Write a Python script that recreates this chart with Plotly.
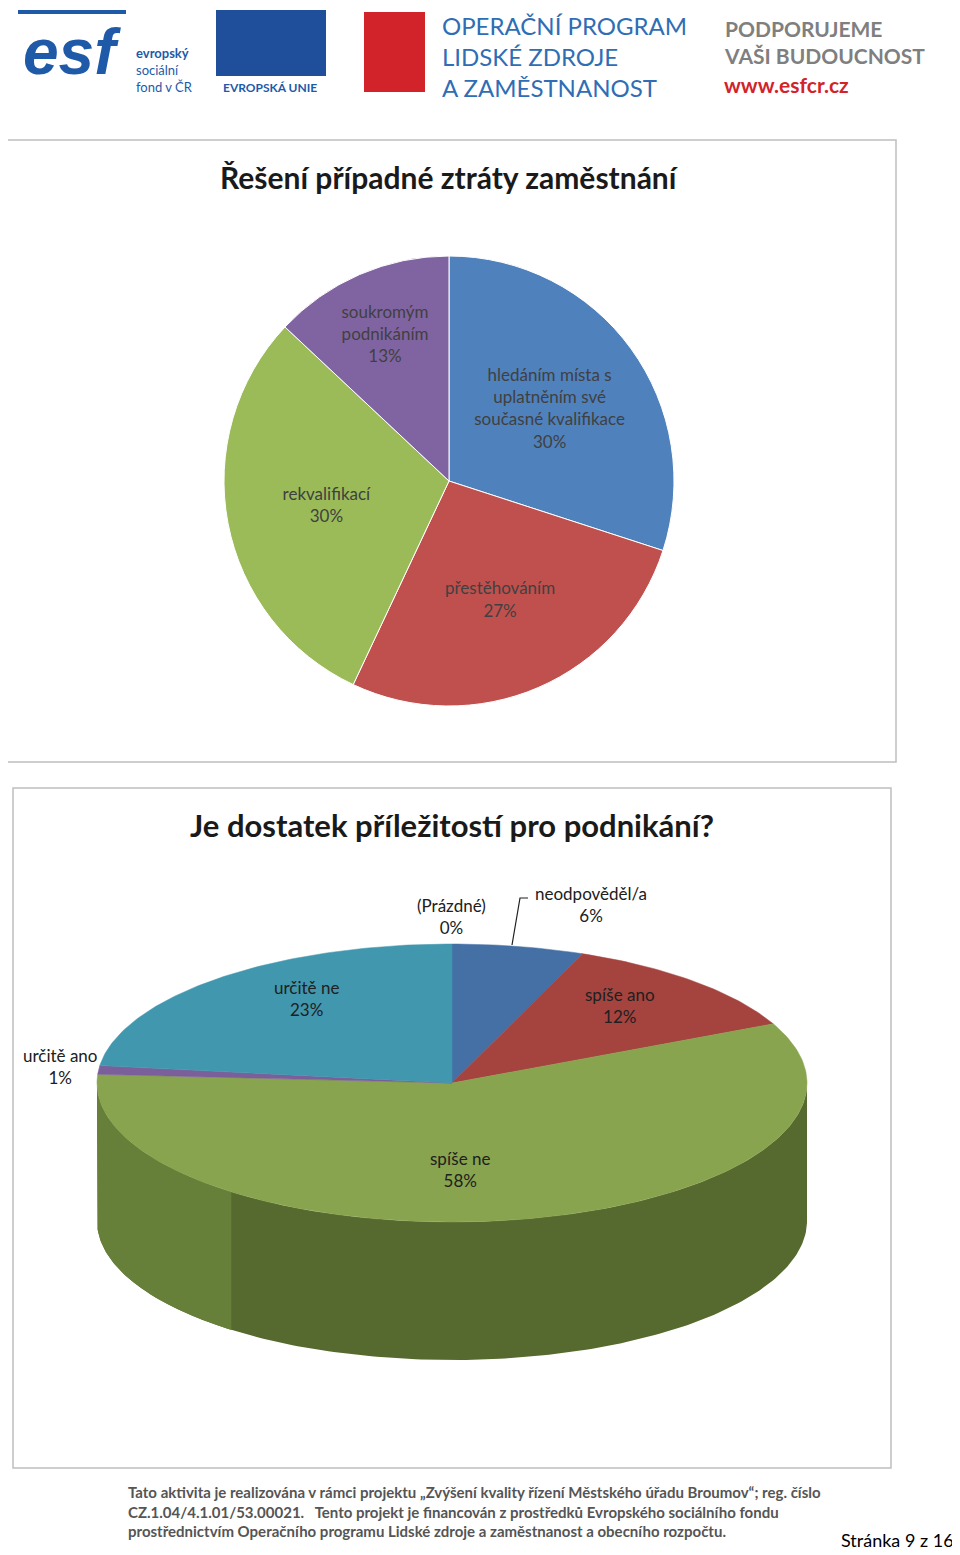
import numpy as np
import plotly.graph_objects as go

# Chart 1 data
labels1 = ["hledáním místa s<br>uplatněním své<br>současné kvalifikace", "přestěhováním", "rekvalifikací", "soukromým<br>podnikáním"]
values1 = [30, 27, 30, 13]
colors1 = ["#4F81BD", "#C0504D", "#9BBB59", "#8064A2"]

# Chart 2 data
labels2 = ["(Prázdné)", "neodpověděl/a", "spíše ano", "spíše ne", "určitě ano", "určitě ne"]
values2 = [0, 6, 12, 58, 1, 23]
colors2 = ["#4470A5", "#4470A5", "#A5433F", "#88A44E", "#7B5F9A", "#4197AE"]
label_pos2 = [(451, 916), (591, 904), (620, 1005), (460, 1169), (60, 1066), (306, 998)]

OFF = 8  # page body margin
PW, PH = 960, 1555
W, H = PW - OFF, PH - OFF
fig = go.Figure()

def px(x):  # page x -> paper
    return (x - OFF) / W
def py(y):
    return 1 - (y - OFF) / H

fig.add_trace(go.Pie(
    labels=labels1, values=values1, sort=False, direction="clockwise", rotation=0,
    marker=dict(colors=colors1, line=dict(color="white", width=1)),
    texttemplate="%{label}<br>%{percent:.0%}", textposition="inside",
    insidetextorientation="horizontal",
    textfont=dict(family="Lato", size=17, color="#404040"),
    domain=dict(x=[px(224), px(674)], y=[py(706), py(256)]),
    showlegend=False, hoverinfo="skip"))

cx, cy, rx, ry, depth = 452, 1083, 355, 139, 138
def pt(theta):
    return cx + rx * np.sin(theta), cy - ry * np.cos(theta)

t = np.linspace(np.pi / 2, 3 * np.pi / 2, 200)
xs, ys = pt(t)
fig.add_trace(go.Scatter(x=np.concatenate([xs, xs[::-1]]), y=np.concatenate([ys, ys[::-1] + depth]),
                         fill="toself", fillcolor="#56692F", mode="lines",
                         line=dict(width=0), showlegend=False, hoverinfo="skip"))
t2 = np.linspace(3 * np.pi / 2 - 0.9, 3 * np.pi / 2, 80)
xs2, ys2 = pt(t2)
fig.add_trace(go.Scatter(x=np.concatenate([xs2, xs2[::-1]]), y=np.concatenate([ys2, ys2[::-1] + depth]),
                         fill="toself", fillcolor="#66803A", mode="lines", line=dict(width=0),
                         showlegend=False, hoverinfo="skip"))

cum = np.cumsum([0] + values2) / sum(values2) * 2 * np.pi
for i, v in enumerate(values2):
    if v == 0:
        continue
    t = np.linspace(cum[i], cum[i + 1], max(10, int(v * 4)))
    x, y = pt(t)
    fig.add_trace(go.Scatter(x=np.concatenate([[cx], x, [cx]]), y=np.concatenate([[cy], y, [cy]]),
                             fill="toself", fillcolor=colors2[i], mode="lines",
                             line=dict(width=0.5, color=colors2[i]), showlegend=False, hoverinfo="skip"))

ann = []
for (lx, ly), lab, v in zip(label_pos2, labels2, values2):
    ann.append(dict(x=lx, y=ly, xref="x", yref="y", text=f"{lab}<br>{v}%", showarrow=False,
                    font=dict(family="Lato", size=17, color="#202020")))
fig.add_trace(go.Scatter(x=[512, 520, 528], y=[945, 898, 898], mode="lines",
                         line=dict(color="#202020", width=1.2), showlegend=False, hoverinfo="skip"))

ann += [
    dict(x=449, y=177, xref="x", yref="y", text="<b>Řešení případné ztráty zaměstnání</b>", showarrow=False,
         font=dict(family="Lato", size=30, color="#1a1a1a")),
    dict(x=452, y=825, xref="x", yref="y", text="<b>Je dostatek příležitostí pro podnikání?</b>", showarrow=False,
         font=dict(family="Lato", size=31, color="#1a1a1a")),
    dict(x=72, y=52, xref="x", yref="y", text="<b><i>esf</i></b>", showarrow=False,
         font=dict(family="Liberation Sans", size=64, color="#1E5AA8")),
    dict(x=134, y=70, xref="x", yref="y", text="<b>evropský</b><br>sociální<br>fond v ČR", showarrow=False,
         xanchor="left", align="left", font=dict(family="Lato", size=13, color="#1E5AA8")),
    dict(x=270, y=87, xref="x", yref="y", text="<b>EVROPSKÁ UNIE</b>", showarrow=False,
         font=dict(family="Lato", size=12, color="#1E5AA8")),
    dict(x=440, y=56, xref="x", yref="y", text="OPERAČNÍ PROGRAM<br>LIDSKÉ ZDROJE<br>A ZAMĚSTNANOST",
         showarrow=False, xanchor="left", align="left", font=dict(family="Lato", size=24, color="#2F6DB5")),
    dict(x=722, y=42, xref="x", yref="y", text="<b>PODPORUJEME<br>VAŠI BUDOUCNOST</b>",
         showarrow=False, xanchor="left", align="left", font=dict(family="Lato", size=21, color="#7F7F7F")),
    dict(x=722, y=84, xref="x", yref="y", text="<b>www.esfcr.cz</b>",
         showarrow=False, xanchor="left", align="left", font=dict(family="Lato", size=21, color="#D2232A")),
    dict(x=126, y=1511, xref="x", yref="y", align="left", xanchor="left", showarrow=False,
         text="<b>Tato aktivita je realizována v rámci projektu „Zvýšení kvality řízení Městského úřadu Broumov“; reg. číslo<br>"
              "CZ.1.04/4.1.01/53.00021.   Tento projekt je financován z prostředků Evropského sociálního fondu<br>"
              "prostřednictvím Operačního programu Lidské zdroje a zaměstnanost a obecního rozpočtu.</b>",
         font=dict(family="Lato", size=15, color="#555555")),
    dict(x=956, y=1540, xref="x", yref="y", xanchor="right", showarrow=False, text="Stránka 9 z 16",
         font=dict(family="Lato", size=18, color="#000000")),
]

shapes = [
    dict(type="rect", xref="x", yref="y", x0=3, y0=140, x1=896, y1=762, line=dict(color="#BFBFBF", width=1.5), layer="below"),
    dict(type="rect", xref="x", yref="y", x0=13, y0=788, x1=891, y1=1468, line=dict(color="#BFBFBF", width=1.5), layer="below"),
    dict(type="rect", xref="x", yref="y", x0=216, y0=10, x1=326, y1=76, fillcolor="#1F4E9B", line=dict(width=0)),
    dict(type="rect", xref="x", yref="y", x0=18, y0=10, x1=126, y1=14, fillcolor="#1E5AA8", line=dict(width=0)),
    dict(type="rect", xref="x", yref="y", x0=364, y0=12, x1=425, y1=92, fillcolor="#D2232A", line=dict(width=0)),
]
ang = np.linspace(0, 2 * np.pi, 13)[:-1]
fig.add_trace(go.Scatter(x=271 + 22 * np.sin(ang), y=43 - 22 * np.cos(ang), mode="markers",
                         marker=dict(symbol="star", size=7, color="#FFDD00"), showlegend=False, hoverinfo="skip"))

fig.update_layout(
    width=W, height=H, margin=dict(l=0, r=0, t=0, b=0),
    paper_bgcolor="white", plot_bgcolor="white",
    xaxis=dict(range=[OFF, PW], visible=False, domain=[0, 1], fixedrange=True),
    yaxis=dict(range=[PH, OFF], visible=False, domain=[0, 1], fixedrange=True),
    annotations=ann, shapes=shapes,
)
fig.write_html("out.html")
